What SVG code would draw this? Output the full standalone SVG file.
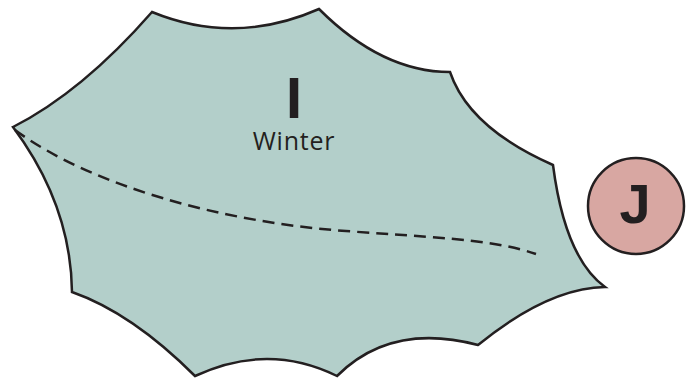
<svg xmlns="http://www.w3.org/2000/svg" width="692" height="383" viewBox="0 0 692 383">
  <style>
    .outline { stroke: #231f20; stroke-width: 2.5; stroke-linejoin: miter; }
    .leaf { fill: #b3cfca; }
    .berry { fill: #d8a7a2; }
    .dash { fill: none; stroke: #231f20; stroke-width: 2.5; stroke-dasharray: 12 7; }
    .big { font-family: "Open Sans", "Liberation Sans", sans-serif; font-weight: 700; fill: #231f20; }
    .label { font-family: "Open Sans", "Liberation Sans", sans-serif; font-size: 25px; fill: #231f20; }
  </style>
  <rect width="692" height="383" fill="#ffffff"/>
  <g id="leaf">
    <path class="leaf outline" d="M152,12 Q235,46 319,9 Q382,72 450,72 Q469,128 553,165 Q565,258 605,287 Q548,288 478,345 Q391,322 337,376 Q268,342 195,376 Q132,313 72,292 Q71,205 13,127 Q82,92 152,12 Z"/>
    <text class="big" x="294" y="118" font-size="56" text-anchor="middle">I</text>
    <text class="label" x="294" y="150" text-anchor="middle" letter-spacing="0.8">Winter</text>
  </g>
  <g id="connectors">
    <path class="dash" d="M15,130 C90,185 220,222 346,231 C420,237 490,238 536,254"/>
  </g>
  <g id="berry">
    <circle class="berry outline" cx="636" cy="206" r="48"/>
    <text x="635" y="223" font-family="'Liberation Sans', Arial, sans-serif" font-weight="700" font-size="56" fill="#231f20" text-anchor="middle">J</text>
  </g>
</svg>
